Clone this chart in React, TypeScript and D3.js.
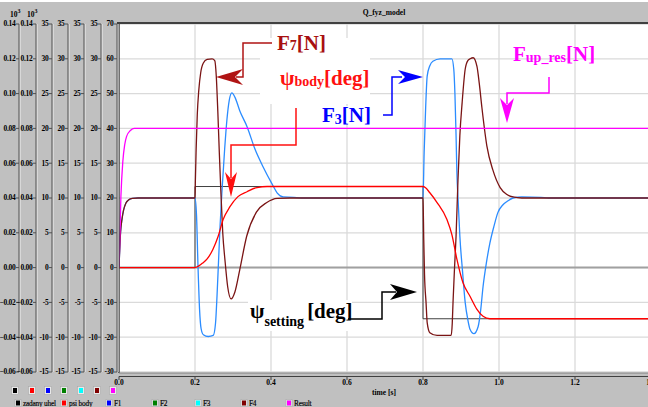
import React from 'react';
import * as d3 from 'd3';

// time axis and value axes
const timeTicks = [0, 0.2, 0.4, 0.6, 0.8, 1.0, 1.2, 1.4];
const ticksMilli = [-0.06, -0.04, -0.02, 0, 0.02, 0.04, 0.06, 0.08, 0.1, 0.12, 0.14];
const ticks35 = [-15, -10, -5, 0, 5, 10, 15, 20, 25, 30, 35];
const ticks70 = [-30, -20, -10, 0, 10, 20, 30, 40, 50, 60, 70];
const leftAxes = [ticksMilli, ticksMilli, ticks35, ticks35, ticks35, ticks35, ticks70];

// series values, [time s, value on the 70 axis]
const zadanyUhel: [number, number][] = [
  [0, 0], [0.2, 0], [0.2, 23.3], [0.8, 23.3], [0.8, -14.7], [1.4, -14.7],
];
const psiBody: [number, number][] = [
  [0, 0], [0.2, 0], [0.21, 0.5], [0.22, 1.3], [0.232, 2.5], [0.247, 5.2], [0.261, 9],
  [0.274, 13.8], [0.292, 17.5], [0.313, 20.4], [0.337, 21.8], [0.363, 23], [0.39, 23.3],
  [0.8, 23.3], [0.806, 23], [0.818, 21.5], [0.837, 18.7], [0.863, 13.8], [0.876, 9.5],
  [0.889, 2.5], [0.905, -4.3], [0.924, -8.3], [0.942, -12], [0.958, -14], [0.976, -14.7],
  [1.4, -14.7],
];
const f3: [number, number][] = [
  [0, 0], [0.004, 10], [0.008, 14], [0.012, 16.5], [0.018, 18.5], [0.025, 19.4], [0.035, 19.9],
  [0.05, 20], [0.2, 20], [0.204, 15], [0.208, 0], [0.212, -12], [0.216, -17.5], [0.222, -19.3],
  [0.235, -19.8], [0.248, -19.5], [0.254, -16], [0.258, -8], [0.262, 2], [0.266, 12],
  [0.271, 22], [0.278, 34], [0.284, 42.5], [0.29, 48], [0.297, 50.2], [0.305, 49], [0.318, 45],
  [0.337, 40.5], [0.358, 34], [0.379, 29], [0.403, 24], [0.416, 21.5], [0.432, 20.3],
  [0.46, 20.2], [0.48, 20], [0.8, 20], [0.803, 33], [0.807, 46], [0.811, 55], [0.818, 58],
  [0.826, 59.3], [0.845, 60], [0.876, 60], [0.881, 57], [0.884, 50], [0.887, 38], [0.889, 28],
  [0.893, 18], [0.897, 9], [0.904, -1], [0.911, -10], [0.918, -15], [0.924, -17.8], [0.934, -19],
  [0.945, -17], [0.952, -12], [0.958, -5.5], [0.967, 1.5], [0.976, 7], [0.987, 12], [0.997, 15.8],
  [1.01, 18], [1.021, 19], [1.037, 20], [1.06, 20.3], [1.11, 20.2], [1.13, 20], [1.4, 20],
];
const f4: [number, number][] = [
  [0, 0], [0.004, 10], [0.008, 14], [0.012, 16.5], [0.018, 18.5], [0.025, 19.4], [0.035, 19.9],
  [0.05, 20], [0.2, 20], [0.201, 25], [0.203, 34], [0.206, 44], [0.21, 51], [0.215, 56],
  [0.222, 58.8], [0.232, 59.8], [0.245, 60], [0.252, 59.5], [0.256, 55], [0.26, 45], [0.264, 33],
  [0.268, 22], [0.273, 10], [0.279, 2], [0.286, -5.5], [0.295, -9], [0.305, -7], [0.318, -0.5],
  [0.336, 9], [0.362, 16], [0.389, 18.7], [0.416, 19.9], [0.45, 20], [0.8, 20], [0.802, 8],
  [0.804, -2], [0.808, -10], [0.811, -15.8], [0.818, -18.7], [0.837, -19.5], [0.874, -19.5],
  [0.877, -16], [0.879, -10], [0.883, 0], [0.887, 9], [0.892, 25], [0.897, 38], [0.903, 47.4],
  [0.911, 57], [0.918, 59.5], [0.924, 60], [0.932, 60.3], [0.942, 57.8], [0.948, 53],
  [0.955, 46], [0.968, 35], [0.984, 28], [1.003, 23], [1.021, 21], [1.037, 20.3], [1.06, 20],
  [1.4, 20],
];
const result: [number, number][] = [
  [0, 0], [0.005, 20.4], [0.01, 30.4], [0.015, 35.3], [0.02, 37.7], [0.03, 39.4], [0.04, 40],
  [1.4, 40],
];

// legend
const legendNames = ['zadany uhel', 'psi body', 'F1', 'F2', 'F3', 'F4', 'Result'];
const legendColors = ['#000000', '#ff0000', '#0000ff', '#008000', '#00ffff', '#800000', '#ff00ff'];

const W = 648;
const H = 407;
const plot = { left: 119, top: 23, right: 648, bottom: 373 };
const axisXs = [19, 36, 52, 68, 84, 101, 117];
const markerXs = [15, 32, 48, 64, 81, 97, 113];
const legendXs = [16, 62, 107, 153, 196, 242, 287];

const font = '"Liberation Serif", "Times New Roman", serif';

const x = d3.scaleLinear().domain([0, 1.4]).range([119, 651]);
const y = d3.scaleLinear().domain([-30, 70]).range([372, 24]);

const smooth = d3.line<[number, number]>().x(d => x(d[0])).y(d => y(d[1])).curve(d3.curveMonotoneX);
const straight = d3.line<[number, number]>().x(d => x(d[0])).y(d => y(d[1]));

// notched arrow head
function arrowHead(tx: number, ty: number, dir: string, len = 26, half = 8, notch = 7) {
  if (dir === 'left') return `M${tx},${ty}L${tx + len},${ty - half}L${tx + len - notch},${ty}L${tx + len},${ty + half}Z`;
  if (dir === 'right') return `M${tx},${ty}L${tx - len},${ty - half}L${tx - len + notch},${ty}L${tx - len},${ty + half}Z`;
  return `M${tx},${ty}L${tx - half},${ty - len}L${tx},${ty - len + notch}L${tx + half},${ty - len}Z`;
}

export default function App() {
  const fmtMilli = d3.format('.2f');
  return (
    <div style={{ position: 'fixed', left: 0, top: 0 }}>
      <svg width={W} height={H} style={{ display: 'block', fontFamily: font }}>
        <rect x={0} y={0} width={W} height={H} fill="#c0c0c0" />
        <rect x={0} y={0} width={W} height={2} fill="#ffffff" />
        <text x={384} y={15} textAnchor="middle" fontSize={7.5} fontWeight="bold">Q_fyz_model</text>

        {/* plot area */}
        <rect x={plot.left} y={plot.top} width={plot.right - plot.left} height={plot.bottom - plot.top} fill="#ffffff" />
        <g clipPath="url(#clip)">
          <defs>
            <clipPath id="clip">
              <rect x={plot.left} y={plot.top} width={plot.right - plot.left} height={plot.bottom - plot.top} />
            </clipPath>
          </defs>
          {ticks70.map(v => (
            <line key={'h' + v} x1={plot.left} x2={plot.right} y1={y(v)} y2={y(v)} stroke="#dadada" strokeWidth={1.3} />
          ))}
          {timeTicks.slice(1).map(t => (
            <line key={'v' + t} x1={x(t)} x2={x(t)} y1={plot.top} y2={plot.bottom} stroke="#dadada" strokeWidth={1.3} />
          ))}
          <line x1={plot.left} x2={plot.right} y1={y(0)} y2={y(0)} stroke="#a0a0a0" strokeWidth={2} />

          <path d={straight(zadanyUhel) || ''} fill="none" stroke="#404040" strokeWidth={1} />
          <path d={smooth(f3) || ''} fill="none" stroke="#2b8cff" strokeWidth={1.3} />
          <path d={smooth(f4) || ''} fill="none" stroke="#7a1414" strokeWidth={1.3} />
          <path d={smooth(psiBody) || ''} fill="none" stroke="#ff0000" strokeWidth={1.3} />
          <path d={smooth(result) || ''} fill="none" stroke="#ff00ff" strokeWidth={1.3} />
        </g>
        <line x1={plot.left - 2} x2={plot.right} y1={plot.top} y2={plot.top} stroke="#404040" strokeWidth={2} />
        <line x1={plot.left} x2={plot.left} y1={plot.top} y2={plot.bottom} stroke="#404040" strokeWidth={1.5} />
        <line x1={plot.left} x2={plot.right} y1={plot.bottom} y2={plot.bottom} stroke="#808080" strokeWidth={1} />

        {/* time axis */}
        <line x1={plot.left} x2={plot.right} y1={376.5} y2={376.5} stroke="#404040" strokeWidth={1} />
        {timeTicks.map(t => (
          <g key={'xt' + t}>
            <line x1={x(t)} x2={x(t)} y1={376.5} y2={380} stroke="#404040" />
            <text x={x(t)} y={384.5} textAnchor="middle" fontSize={7.5} fontWeight="bold">{t.toFixed(1)}</text>
          </g>
        ))}
        <text x={384} y={395} textAnchor="middle" fontSize={7.5} fontWeight="bold">time [s]</text>

        {/* left value axes */}
        {leftAxes.map((ticks, i) => {
          const ax = axisXs[i];
          const s = d3.scaleLinear().domain([ticks[0], ticks[ticks.length - 1]]).range([372, 24]);
          return (
            <g key={'ax' + i}>
              <line x1={ax + 1} x2={ax + 1} y1={24} y2={372} stroke="#f0f0f0" strokeWidth={1} />
              <line x1={ax} x2={ax} y1={24} y2={372} stroke="#505050" strokeWidth={1} />
              {ticks.map(v => (
                <g key={v}>
                  <line x1={ax - 3} x2={ax} y1={s(v)} y2={s(v)} stroke="#505050" />
                  <text x={ax - 3.5} y={s(v)} dy="0.33em" textAnchor="end" fontSize={7.5} fontWeight="bold" letterSpacing={-0.3}>
                    {i < 2 ? fmtMilli(v) : String(v)}
                  </text>
                </g>
              ))}
            </g>
          );
        })}
        {[0, 1].map(i => (
          <text key={'e' + i} x={axisXs[i] - 9} y={17} fontSize={7.5} fontWeight="bold">
            10<tspan dy={-4} fontSize={6}>3</tspan>
          </text>
        ))}

        {/* legend */}
        {legendColors.map((c, i) => (
          <g key={'m' + i}>
            <rect x={markerXs[i] - 3.5} y={386.5} width={7} height={8} fill="#e8e8e8" stroke="#a8a8a8" strokeWidth={0.6} />
            <rect x={markerXs[i] - 2} y={388} width={4} height={5} fill={c} />
          </g>
        ))}
        {legendNames.map((n, i) => (
          <g key={'l' + i}>
            <rect x={legendXs[i] - 1} y={399.5} width={6} height={7} fill="#e8e8e8" stroke="#a8a8a8" strokeWidth={0.6} />
            <rect x={legendXs[i]} y={400.5} width={4} height={5} fill={legendColors[i]} />
            <text x={legendXs[i] + 7} y={406} fontSize={7.3} letterSpacing={-0.2} stroke="#000" strokeWidth={0.15}>{n}</text>
          </g>
        ))}

        {/* annotations */}
        <rect x={260} y={38} width={110} height={66} fill="#ffffff" />
        <rect x={320} y={106} width={52} height={18} fill="#ffffff" />
        <rect x={248} y={300} width={104} height={31} fill="#ffffff" />

        <path d="M272,43H243V77H236" fill="none" stroke="#b01414" strokeWidth={1.5} />
        <path d={arrowHead(216, 77, 'left', 27, 8, 8)} fill="#b01414" />
        <text x={277} y={50} fontSize={21} fontWeight="bold" fill="#a81010">
          F<tspan fontSize={14}>7</tspan>[N]
        </text>

        <path d="M296,108V145H231V178" fill="none" stroke="#ff1010" strokeWidth={1.5} />
        <path d={arrowHead(231, 197, 'down', 25, 6, 7)} fill="#ff1010" />
        <text x={280} y={85} fontSize={21} fontWeight="bold" fill="#ff1010">
          ψ<tspan fontSize={14} dy={1}>body</tspan><tspan dy={-1}>[deg]</tspan>
        </text>

        <path d="M383,115H392V77H402" fill="none" stroke="#0000ff" strokeWidth={1.5} />
        <path d={arrowHead(423, 77, 'right', 25, 7, 7)} fill="#0000ff" />
        <text x={322} y={122} fontSize={21} fontWeight="bold" fill="#0000ff">
          F<tspan fontSize={14} dy={2}>3</tspan><tspan dy={-2}>[N]</tspan>
        </text>

        <path d="M549,77V93H507V104" fill="none" stroke="#ff00ff" strokeWidth={1.5} />
        <path d={arrowHead(507, 123, 'down', 25, 7, 7)} fill="#ff00ff" />
        <text x={513} y={61} fontSize={21} fontWeight="bold" fill="#ff00ff">
          F<tspan fontSize={14} dy={1}>up_res</tspan><tspan dy={-1}>[N]</tspan>
        </text>

        <path d="M348,319H382V292H396" fill="none" stroke="#000000" strokeWidth={1.5} />
        <path d={arrowHead(417, 292, 'right', 27, 8, 7)} fill="#000000" />
        <text x={250} y={318} fontSize={21} fontWeight="bold" fill="#000000">
          ψ<tspan fontSize={14} dy={8}>setting</tspan><tspan dx={3} dy={-8}>[deg]</tspan>
        </text>
      </svg>
    </div>
  );
}
